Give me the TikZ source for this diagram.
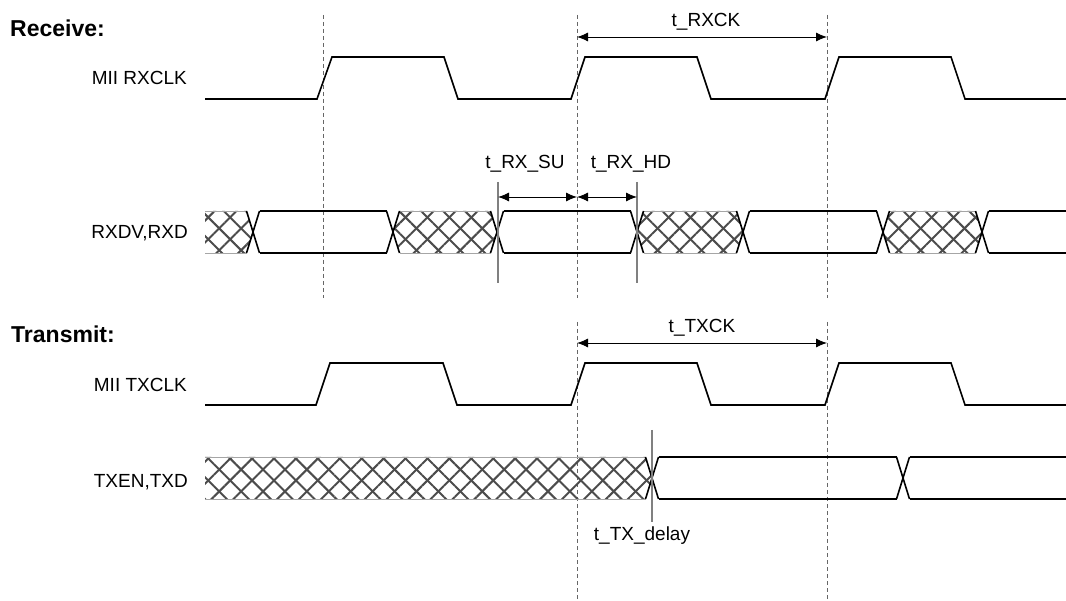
\documentclass[tikz,border=0pt]{standalone}
\usepackage{fontspec}
\setmainfont{Liberation Sans}
\usetikzlibrary{patterns.meta,arrows.meta}
\begin{document}
\begin{tikzpicture}[x=1pt,y=-1pt,
  sig/.style={line width=1.6pt,black,line join=miter},
  guide/.style={black!60,line width=1pt,dash pattern=on 4pt off 3pt},
  markline/.style={black!50,line width=1.3pt},
  dim/.style={{Latex[length=11pt,width=9pt]}-{Latex[length=11pt,width=9pt]},line width=0.9pt},
  lab/.style={font=\fontsize{19}{22}\selectfont,inner sep=0pt},
  head/.style={font=\bfseries\fontsize{23}{26}\selectfont,inner sep=0pt},
  hatchA/.style={pattern={Lines[angle=45,distance=15.5pt,line width=2pt]},pattern color=black!70},
  hatchB/.style={pattern={Lines[angle=-45,distance=15.5pt,line width=2pt]},pattern color=black!70},
  hedge/.style={black!35,line width=0.8pt}]
\useasboundingbox (0,0) rectangle (1066,601);
\fill[white] (0,0) rectangle (1066,601);

% ---------- labels ----------
\node[head,anchor=base west] (rxhead) at (10,37) {Receive:};
\node[lab,anchor=base east] (rxclklab) at (187,85) {MII RXCLK};
\node[lab,anchor=base east] (rxdlab) at (188,239) {RXDV,RXD};
\node[head,anchor=base west] (txhead) at (11,343) {Transmit:};
\node[lab,anchor=base east] (txclklab) at (187,392) {MII TXCLK};
\node[lab,anchor=base east] (txdlab) at (188,488) {TXEN,TXD};

% ---------- guide lines ----------
\foreach \g/\n in {323/ga,577/gb,827/gc}{
  \coordinate (\n t) at (\g,15);
  \coordinate (\n b) at (\g,298);
  \draw[guide] (\n t) -- (\n b);
}
\foreach \g/\n in {577/gd,827/ge}{
  \coordinate (\n t) at (\g,322);
  \coordinate (\n b) at (\g,601);
  \draw[guide] (\n t) -- (\n b);
}

% ---------- RX clock ----------
\draw[sig] (205,99) -- (317,99) -- (332,57) -- (444,57) -- (458,99) -- (571,99) -- (585,57)
  -- (697,57) -- (711,99) -- (825,99) -- (839,57) -- (951,57) -- (965,99) -- (1066,99);

% ---------- RX data ----------
\def\hw{6.5}
% hatched areas
\foreach \p in {hatchA,hatchB}{
  \fill[\p] (205,211) -- ({253-\hw},211) -- (253,232) -- ({253-\hw},253) -- (205,253) -- cycle;
  \foreach \a/\b in {393/497,637/743,883/982}{
    \fill[\p] (\a,232) -- ({\a+\hw},211) -- ({\b-\hw},211) -- (\b,232) -- ({\b-\hw},253) -- ({\a+\hw},253) -- cycle;
  }
}
\draw[hedge] (205,211) -- ({253-\hw},211) (205,253) -- ({253-\hw},253);
\foreach \a/\b in {393/497,637/743,883/982}{
  \draw[hedge] ({\a+\hw},211) -- ({\b-\hw},211) ({\a+\hw},253) -- ({\b-\hw},253);
}
% valid areas
\foreach \a/\b in {253/393,497/637,743/883}{
  \draw[sig] ({\a+\hw},211) -- ({\b-\hw},211) ({\a+\hw},253) -- ({\b-\hw},253);
}
\draw[sig] ({982+\hw},211) -- (1066,211) ({982+\hw},253) -- (1066,253);
% crossings
\foreach \c in {253,393,497,637,743,883,982}{
  \draw[sig] ({\c-\hw},211) -- ({\c+\hw},253) ({\c-\hw},253) -- ({\c+\hw},211);
}

% ---------- RX timing marks ----------
\coordinate (sut) at (498,182); \coordinate (sub) at (498,283);
\coordinate (hdt) at (637,182); \coordinate (hdb) at (637,283);
\draw[markline] (sut) -- (sub);
\draw[markline] (hdt) -- (hdb);
\coordinate (su1) at (498,197); \coordinate (su2) at (577,197); \coordinate (hd2) at (637,197);
\draw[dim] (su1) -- (su2);
\draw[dim] (su2) -- (hd2);
\node[lab,anchor=base] (sulab) at (525,169) {t\_RX\_SU};
\node[lab,anchor=base] (hdlab) at (631,169) {t\_RX\_HD};
\coordinate (rk1) at (577,37); \coordinate (rk2) at (827,37);
\draw[dim] (rk1) -- (rk2);
\node[lab,anchor=base] (rxcklab) at (706,27) {t\_RXCK};

% ---------- TX clock ----------
\draw[sig] (205,405) -- (316,405) -- (330,363) -- (443,363) -- (457,405) -- (571,405) -- (585,363)
  -- (697,363) -- (711,405) -- (825,405) -- (839,363) -- (951,363) -- (965,405) -- (1066,405);
\coordinate (tk1) at (577,343); \coordinate (tk2) at (827,343);
\draw[dim] (tk1) -- (tk2);
\node[lab,anchor=base] (txcklab) at (702,333) {t\_TXCK};

% ---------- TX data ----------
\foreach \p in {hatchA,hatchB}{
  \fill[\p] (205,457) -- ({652-\hw},457) -- (652,478) -- ({652-\hw},499) -- (205,499) -- cycle;
}
\draw[hedge] (205,457) -- ({652-\hw},457) (205,499) -- ({652-\hw},499);
\draw[sig] ({652+\hw},457) -- ({903-\hw},457) ({652+\hw},499) -- ({903-\hw},499);
\draw[sig] ({903+\hw},457) -- (1066,457) ({903+\hw},499) -- (1066,499);
\foreach \c in {652,903}{
  \draw[sig] ({\c-\hw},457) -- ({\c+\hw},499) ({\c-\hw},499) -- ({\c+\hw},457);
}
\coordinate (tdt) at (652,430); \coordinate (tdb) at (652,522);
\draw[markline] (tdt) -- (tdb);
\node[lab,anchor=base] (tdlab) at (642,540) {t\_TX\_delay};
\end{tikzpicture}
\end{document}
